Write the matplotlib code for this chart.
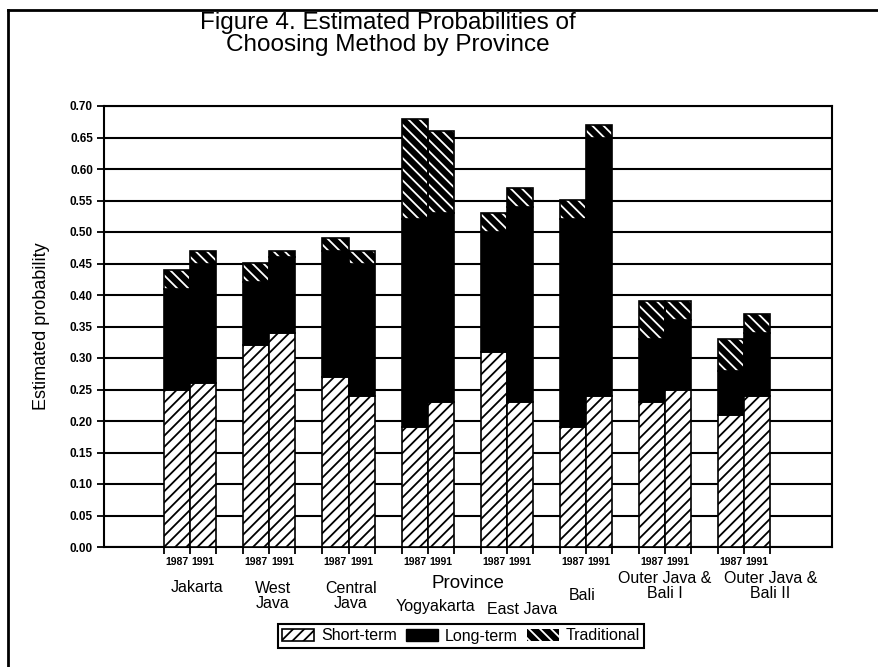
import numpy as np
import matplotlib
matplotlib.use('Agg')
import matplotlib.pyplot as plt
from matplotlib.patches import Patch
from matplotlib.lines import Line2D
from matplotlib.ticker import MultipleLocator, FormatStrFormatter
import matplotlib.transforms as mtransforms

# data
provinces = ['Jakarta', 'West\nJava', 'Central\nJava', 'Yogyakarta', 'East Java',
             'Bali', 'Outer Java &\nBali I', 'Outer Java &\nBali II']
years = ['1987', '1991']
short_1987 = [0.25, 0.32, 0.27, 0.19, 0.31, 0.19, 0.23, 0.21]
short_1991 = [0.26, 0.34, 0.24, 0.23, 0.23, 0.24, 0.25, 0.24]
long_1987 = [0.16, 0.10, 0.20, 0.33, 0.19, 0.33, 0.10, 0.07]
long_1991 = [0.19, 0.12, 0.21, 0.30, 0.31, 0.41, 0.11, 0.10]
trad_1987 = [0.03, 0.03, 0.02, 0.16, 0.03, 0.03, 0.06, 0.05]
trad_1991 = [0.02, 0.01, 0.02, 0.13, 0.03, 0.02, 0.03, 0.03]

# label placement (offset from group centre, figure y in px)
label_dx = [0.09, 0.04, 0.03, 0.10, 0.20, -0.05, 0.0, 0.33]
label_y = [588, 596, 596, 607, 610, 596, 586, 586]

plt.rcParams['font.family'] = ['Liberation Sans', 'DejaVu Sans']
plt.rcParams['hatch.linewidth'] = 1.3

W, H = 879, 667
fig = plt.figure(figsize=(W / 100, H / 100), dpi=100)
ax = fig.add_axes([104 / W, (H - 547) / H, 728 / W, 441 / H])

x = np.arange(len(provinces))
bw = 0.33

for xs, s, l, t in [(x - bw / 2, short_1987, long_1987, trad_1987),
                    (x + bw / 2, short_1991, long_1991, trad_1991)]:
    s = np.array(s)
    l = np.array(l)
    t = np.array(t)
    ax.bar(xs, s, bw, color='white', edgecolor='black', hatch='///', linewidth=1.2, zorder=3)
    ax.bar(xs, l, bw, bottom=s, color='black', edgecolor='black', linewidth=1.2, zorder=3)
    ax.bar(xs, t, bw, bottom=s + l, color='black', edgecolor='white', hatch='\\\\\\',
           linewidth=0, zorder=3)
    ax.bar(xs, t, bw, bottom=s + l, fill=False, edgecolor='black', linewidth=1.2, zorder=4)

ax.set_xlim(-1.09, 8.11)
ax.set_ylim(0, 0.70)
ax.yaxis.set_major_locator(MultipleLocator(0.05))
ax.yaxis.set_major_formatter(FormatStrFormatter('%.2f'))
ax.grid(axis='y', color='black', linewidth=1.5)
ax.set_axisbelow(True)
for sp in ax.spines.values():
    sp.set_linewidth(1.5)

# year labels under each bar, ticks at bar edges
ax.set_xticks(np.concatenate([x - bw / 2, x + bw / 2]))
ax.set_xticklabels([years[0]] * len(x) + [years[1]] * len(x), fontsize=7.5, fontweight='bold')
ax.set_xticks(np.concatenate([x - bw, x, x + bw]), minor=True)
ax.tick_params(axis='x', which='major', length=0, pad=7)
ax.tick_params(axis='x', which='minor', length=5, width=1.3)
ax.tick_params(axis='y', length=5, width=1.3, labelsize=8.5, pad=3)
for lab in ax.get_yticklabels():
    lab.set_fontweight('bold')

ax.set_ylabel('Estimated probability', fontsize=13, labelpad=14)

trans = mtransforms.blended_transform_factory(ax.transData, fig.transFigure)
for i, name in enumerate(provinces):
    ax.text(x[i] + label_dx[i], 1 - label_y[i] / H, name, transform=trans,
            ha='center', va='center', fontsize=11.5, linespacing=0.95)
fig.text(468 / W, 1 - 583 / H, 'Province', ha='center', va='center', fontsize=13.5)

fig.text(388 / W, 1 - 34 / H, 'Figure 4. Estimated Probabilities of\nChoosing Method by Province',
         ha='center', va='center', fontsize=17.5, linespacing=0.95)

handles = [Patch(facecolor='white', edgecolor='black', hatch='///', linewidth=1.2),
           Patch(facecolor='black', edgecolor='black'),
           Patch(facecolor='black', edgecolor='white', hatch='\\\\\\', linewidth=0)]
leg = fig.legend(handles, ['Short-term', 'Long-term', 'Traditional'], ncol=3,
                 loc='center', bbox_to_anchor=(461 / W, 1 - 636 / H), fontsize=11.5,
                 fancybox=False, edgecolor='black', framealpha=1, handlelength=2.0,
                 handleheight=0.8, handletextpad=0.4, columnspacing=0.6, borderpad=0.3)
leg.get_frame().set_linewidth(1.5)

# page border
fig.add_artist(Line2D([8 / W, 1], [1 - 10 / H, 1 - 10 / H], color='black', linewidth=2))
fig.add_artist(Line2D([8 / W, 8 / W], [0, 1 - 10 / H], color='black', linewidth=2))

plt.savefig('out.png', dpi=100)
